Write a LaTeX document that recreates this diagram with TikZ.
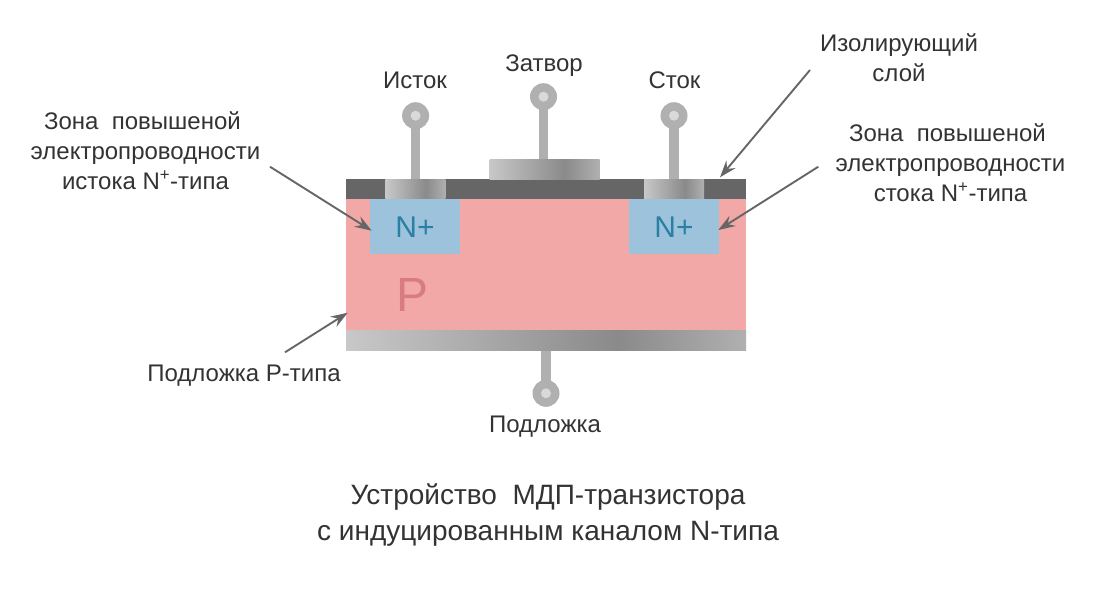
\documentclass[tikz,border=0pt]{standalone}
\usepackage{fontspec}
\setmainfont{Liberation Sans}
\usetikzlibrary{arrows.meta}
\definecolor{mA}{HTML}{C8C8C8}
\definecolor{mB}{HTML}{8A8A8A}
\definecolor{mC}{HTML}{B0B0B0}
\definecolor{txt}{HTML}{333333}
\definecolor{pcol}{HTML}{F3A8A8}
\definecolor{ncol}{HTML}{9CC3DB}
\definecolor{oxide}{HTML}{666666}
\definecolor{arrowc}{HTML}{666666}
\definecolor{HLN}{HTML}{2A7FA5}
\definecolor{HLP}{HTML}{D97C82}
\definecolor{pinin}{HTML}{D9D9D9}
\pgfdeclarelayer{under}
\pgfsetlayers{under,main}
\pgfdeclarehorizontalshading{metal}{100bp}{color(0bp)=(mA); color(25bp)=(mA); color(59bp)=(mB); color(75bp)=(mC); color(100bp)=(mC)}
\tikzset{
  block/.style={inner sep=0pt,outer sep=0pt,anchor=north west,minimum width=#1},
  metalbox/.style={shading=metal},
  pinhead/.style={circle,fill=mC,minimum size=27pt,inner sep=0pt,outer sep=0pt,path picture={\fill[pinin] (path picture bounding box.center) circle (5pt);}},
  stem/.style={draw=mC,line width=9.4pt},
  label/.style={text=txt,inner sep=0pt,outer sep=0pt,align=center,anchor=north,font=\fontsize{24}{30}\selectfont},
  title/.style={text=txt,inner sep=0pt,outer sep=0pt,align=center,anchor=north,font=\fontsize{28}{36}\selectfont},
  pointer/.style={draw=arrowc,line width=1.9pt,-{Stealth[length=17pt,width=12pt,inset=6pt]}}
}
\begin{document}
\begin{tikzpicture}[x=1pt,y=-1pt]
\useasboundingbox (0,0) rectangle (1100,600);
\begin{pgfonlayer}{under}
\fill[white] (0,0) rectangle (1100,600);
\end{pgfonlayer}
% body
\node[block=400pt,minimum height=132pt,fill=pcol] (sub) at (346,198.5) {};
\node[block=400pt,minimum height=20pt,fill=oxide] (oxlayer) at (346,179) {};
\node[block=400pt,minimum height=20.5pt,metalbox] (bulk) at (346,330) {};
\node[block=90pt,minimum height=55pt,fill=ncol] (nleft) at (370.3,198.5) {};
\node[block=90pt,minimum height=55pt,fill=ncol] (nright) at (629.3,198.5) {};
\node[block=60pt,minimum height=19.5pt,metalbox] (cleft) at (385.3,179) {};
\node[block=60pt,minimum height=19.5pt,metalbox] (cright) at (644,179) {};
\node[block=110pt,minimum height=20pt,metalbox] (gate) at (489.7,159) {};
% pins
\node[pinhead] (pinS) at (415.6,115.7) {};
\node[pinhead] (pinG) at (543.5,96.7) {};
\node[pinhead] (pinD) at (674,115.7) {};
\node[pinhead] (pinB) at (546,393.3) {};
\begin{pgfonlayer}{under}
\draw[stem] (pinS.center) -- (pinS.center |- cleft.north);
\draw[stem] (pinG.center) -- (pinG.center |- gate.north);
\draw[stem] (pinD.center) -- (pinD.center |- cright.north);
\draw[stem] (pinB.center) -- (pinB.center |- bulk.south);
\end{pgfonlayer}
% region letters
\node[inner sep=0pt,text=HLN,font=\fontsize{30}{30}\selectfont] (nltxt) at (415,227) {N+};
\node[inner sep=0pt,text=HLN,font=\fontsize{30}{30}\selectfont] (nrtxt) at (674,227) {N+};
\node[inner sep=0pt,text=HLP,font=\fontsize{48}{48}\selectfont] (ptxt) at (412.5,295) {P};
% labels
\node[label] (lS) at (415,71.5) {Исток};
\node[label] (lG) at (544,54.5) {Затвор};
\node[label] (lD) at (674.5,71.5) {Сток};
\node[label] (lB) at (545,416) {Подложка};
\node[label] (lIso) at (899,33.5) {Изолирующий\\слой};
\node[label] (lZL) at (145.5,111.5) {Зона\ \ повышеной\hspace*{6pt}\\электропроводности\\истока N\textsuperscript{+}-типа};
\node[label] (lZR) at (950.5,123.5) {Зона\ \ повышеной\hspace*{6pt}\\электропроводности\\стока N\textsuperscript{+}-типа};
\node[label] (lPs) at (244,365) {Подложка Р-типа};
\node[title] (ttl) at (548,483.5) {Устройство\ \ МДП-транзистора\\с индуцированным каналом N-типа};
% arrows
\coordinate (aZLs) at (270,166.7);
\coordinate (aZLe) at (371.7,230.7);
\coordinate (aZRs) at (818.3,166.7);
\coordinate (aZRe) at (718.3,230);
\coordinate (aIs) at (810,70);
\coordinate (aIe) at (720,177.3);
\coordinate (aPs) at (285,352.3);
\coordinate (aPe) at (347.7,312.7);
\draw[pointer] (aZLs) -- (aZLe);
\draw[pointer] (aZRs) -- (aZRe);
\draw[pointer] (aIs) -- (aIe);
\draw[pointer] (aPs) -- (aPe);
\end{tikzpicture}
\end{document}
